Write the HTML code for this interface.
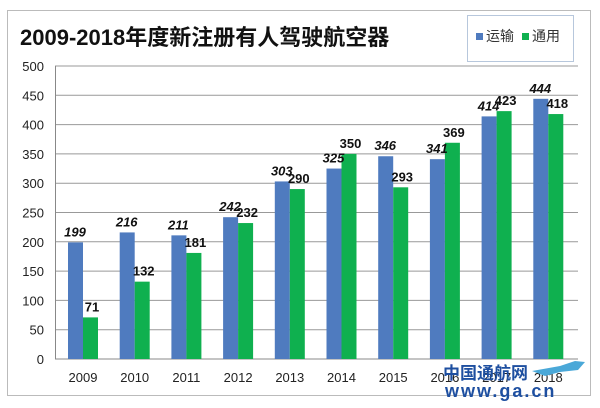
<!DOCTYPE html>
<html><head><meta charset="utf-8"><style>
body{margin:0;background:#fff;}
</style></head><body>
<svg width="600" height="403" xmlns="http://www.w3.org/2000/svg" font-family="Liberation Sans, Noto Sans CJK SC, sans-serif">
<rect x="0" y="0" width="600" height="403" fill="#fff"/>
<rect x="7.5" y="10.5" width="583" height="385" fill="none" stroke="#bbb"/>
<text x="20" y="45" font-size="22" font-weight="bold" fill="#111">2009-2018年度新注册有人驾驶航空器</text>
<rect x="467.5" y="15.5" width="106" height="46" fill="#fff" stroke="#b7c7dc"/>
<rect x="476" y="33" width="7" height="7" fill="#4f7bbf"/>
<text x="486" y="41" font-size="14" fill="#333">运输</text>
<rect x="522" y="33" width="7" height="7" fill="#0fb04f"/>
<text x="532" y="41" font-size="14" fill="#333">通用</text>
<g id="g"></g>
<text x="443" y="379" font-size="17" font-weight="bold" fill="#1e4fa0">中国通航网</text>
<path d="M532 371 L560 366 L575 361 L585 362 L578 370 L560 372 L545 376 Z" fill="#4aa8d8"/>
<text x="445" y="397" font-size="18" font-weight="bold" fill="#1e4fa0" letter-spacing="2">www.ga.cn</text>
</svg>
<script>
const g=document.getElementById('g');
const NS='http://www.w3.org/2000/svg';
function el(t,a,txt){const e=document.createElementNS(NS,t);for(const k in a)e.setAttribute(k,a[k]);if(txt!==undefined)e.textContent=txt;g.appendChild(e);return e;}
const y0=359,k=293/500;
for(let v=0;v<=500;v+=50){const y=y0-v*k;
 el('line',{x1:55,x2:578,y1:y,y2:y,stroke:v==0?'#888':'#999','stroke-width':1});
 el('text',{x:44,y:y+5,'font-size':13,'text-anchor':'end',fill:'#222'},v);}
el('line',{x1:55.5,x2:55.5,y1:66,y2:359,stroke:'#888'});
const A=[199,216,211,242,303,325,346,341,414,444],B=[71,132,181,232,290,350,293,369,423,418];
for(let i=0;i<10;i++){const x=68+i*51.7;
 const ha=A[i]*k,hb=B[i]*k;
 el('rect',{x:x,y:y0-ha,width:15,height:ha,fill:'#4f7bbf'});
 el('rect',{x:x+15,y:y0-hb,width:15,height:hb,fill:'#0fb04f'});
 el('text',{x:x+7,y:y0-ha-6,'font-size':13,'font-weight':'bold','font-style':'italic','text-anchor':'middle',fill:'#111'},A[i]);
 el('text',{x:x+24,y:y0-hb-6,'font-size':13,'font-weight':'bold','text-anchor':'middle',fill:'#111'},B[i]);
 el('text',{x:x+15,y:382,'font-size':13,'text-anchor':'middle',fill:'#222'},2009+i);}
</script>
</body></html>
